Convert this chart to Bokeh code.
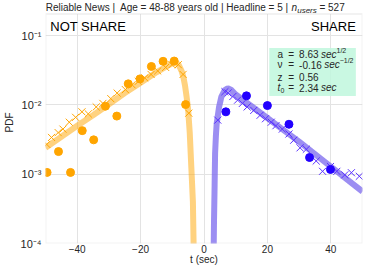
from bokeh.plotting import figure
from bokeh.models import Range1d, FixedTicker, Label, BoxAnnotation
from bokeh.embed import file_html
from bokeh.resources import INLINE

# ---------------- data ----------------
# NOT SHARE (plotted at negative times)
ns_circ_t = [-49.5, -45.9, -42.1, -38.4, -34.8, -31.1, -27.5, -23.9, -20.2, -16.6, -12.9, -9.4, -5.8]
ns_circ_p = [1.06e-3, 2.12e-3, 1.06e-3, 4.25e-3, 3.13e-3, 9.57e-3, 6.89e-3, 2.01e-2, 2.37e-2, 3.58e-2, 4.25e-2, 4.29e-2, 1.01e-2]

ns_x_t = [-49.6, -48.1, -46.0, -44.5, -42.5, -40.5, -38.5, -36.5, -34.0, -31.9, -29.4, -27.4,
          -24.8, -22.7, -20.7, -18.7, -16.7, -14.6, -12.1, -10.1, -8.1, -6.6, -4.8]
ns_x_p = [2.69e-3, 3.39e-3, 3.98e-3, 4.47e-3, 5.62e-3, 6.61e-3, 7.94e-3, 7.41e-3, 9.33e-3, 1.05e-2, 1.23e-2, 1.48e-2,
          1.66e-2, 1.95e-2, 2.19e-2, 2.45e-2, 2.75e-2, 3.09e-2, 3.47e-2, 3.80e-2, 3.80e-2, 2.75e-2, 7.59e-3]

ns_fit_t = [-50, -45, -40, -35, -30, -25, -20, -15, -12, -10, -9, -8, -7, -6.5, -6, -5.5, -5, -4.5, -4.0, -3.5, -3.3, -3.2]
ns_fit_p = [2.40e-3, 3.47e-3, 5.01e-3, 7.08e-3, 1.02e-2, 1.48e-2, 2.09e-2, 2.95e-2, 3.55e-2, 3.98e-2, 4.07e-2,
            3.80e-2, 3.02e-2, 2.51e-2, 1.91e-2, 1.32e-2, 8.51e-3, 3.98e-3, 1.26e-3, 3.98e-4, 1.12e-4, 5.0e-5]

# SHARE (positive times)
sh_circ_t = [6.9, 13.4, 20.0, 26.8, 33.3, 39.9]
sh_circ_p = [7.94e-3, 1.35e-2, 9.77e-3, 5.25e-3, 1.74e-3, 1.17e-3]

sh_x_t = [4.35, 6.6, 7.6, 9.1, 10.6, 12.1, 13.6, 15.7, 17.7, 19.4, 21.2, 22.7, 24.7, 26.8, 28.3,
          30.3, 32.3, 35.4, 37.4, 39.9, 41.9, 44.4, 46.5, 49.0]
sh_x_p = [6.03e-3, 1.55e-2, 1.48e-2, 1.32e-2, 1.17e-2, 1.05e-2, 9.33e-3, 8.32e-3, 7.08e-3, 6.31e-3, 5.62e-3,
          5.01e-3, 4.47e-3, 3.80e-3, 3.09e-3, 2.40e-3, 2.29e-3, 1.55e-3, 1.10e-3, 1.29e-3, 1.10e-3, 9.77e-4,
          1.05e-3, 9.33e-4]

sh_fit_t = [3.0, 3.15, 3.35, 3.5, 3.75, 4.0, 4.75, 5.5, 6.5, 7.5, 8.5, 10, 15, 20, 25, 30, 35, 40, 45, 50]
sh_fit_p = [5.0e-5, 2.0e-4, 6.92e-4, 2.0e-3, 3.55e-3, 5.37e-3, 9.33e-3, 1.32e-2, 1.62e-2, 1.74e-2, 1.66e-2,
            1.41e-2, 9.55e-3, 6.46e-3, 4.37e-3, 2.95e-3, 1.95e-3, 1.29e-3, 8.51e-4, 5.62e-4]

x_ticks = [-40, -20, 0, 20, 40]
x_tick_labels = ["\u221240", "\u221220", "0", "20", "40"]
y_ticks = [1e-4, 1e-3, 1e-2, 1e-1]
y_tick_labels = ["10\u207b\u2074", "10\u207b\u00b3", "10\u207b\u00b2", "10\u207b\u00b9"]

Y_LOW, Y_HIGH = 1e-4, 0.205    # axes limits of the plotting area
Y_TITLE_ROOM = 0.31            # extra room above the axes for the title row

FONT = "Liberation Sans"
ORANGE = "#ffa500"
PURPLE_LINE = "#7b68ee"
PURPLE_X = "#5a32ff"
PURPLE_DOT = "#2200ff"
TXT = "#262626"
EDGE = "#d4d4d4"

p = figure(width=364, height=267, output_backend="svg", toolbar_location=None,
           y_axis_type="log", x_range=Range1d(-50, 50), y_range=Range1d(Y_LOW, Y_TITLE_ROOM),
           title=None, min_border_left=36, min_border_right=2, min_border_top=1,
           min_border_bottom=20)
p.background_fill_color = "white"
p.border_fill_color = "white"
p.outline_line_color = None

p.grid.grid_line_color = "#e3e3e3"
p.grid.grid_line_width = 1
p.xaxis.ticker = FixedTicker(ticks=x_ticks)
p.yaxis.ticker = FixedTicker(ticks=y_ticks)
p.xaxis.major_label_overrides = dict(zip(x_ticks, x_tick_labels))
p.yaxis.major_label_overrides = dict(zip(y_ticks, y_tick_labels))
p.ygrid.ticker = FixedTicker(ticks=y_ticks)
p.xgrid.ticker = FixedTicker(ticks=x_ticks)

for ax in (p.xaxis, p.yaxis):
    ax.axis_line_color = None
    ax.major_tick_line_color = None
    ax.minor_tick_line_color = None
    ax.major_tick_out = 0
    ax.major_tick_in = 0
    ax.minor_tick_out = 0
    ax.minor_tick_in = 0
    ax.major_label_text_font = FONT
    ax.major_label_text_font_size = "10px"
    ax.major_label_text_color = TXT
    ax.axis_label_text_font = FONT
    ax.axis_label_text_font_size = "10px"
    ax.axis_label_text_font_style = "normal"
    ax.axis_label_text_color = TXT
p.xaxis.major_label_standoff = 1
p.xaxis.axis_label_standoff = -2
p.yaxis.major_label_standoff = 4
p.yaxis.axis_label_standoff = 3
p.yaxis.major_label_text_font_size = "11px"
p.xaxis.axis_label = "t (sec)"
p.yaxis.axis_label = "PDF"

# fits
p.line(ns_fit_t, ns_fit_p, line_color=ORANGE, line_alpha=0.5, line_width=6)
p.line(sh_fit_t, sh_fit_p, line_color=PURPLE_LINE, line_alpha=0.75, line_width=6)
# simulated (x)
p.scatter(ns_x_t, ns_x_p, marker="x", size=10, line_color=ORANGE, line_width=1)
p.scatter(sh_x_t, sh_x_p, marker="x", size=10, line_color=PURPLE_X, line_width=1)
# data (circles)
p.scatter(ns_circ_t, ns_circ_p, marker="circle", size=8, fill_color=ORANGE, line_color=ORANGE)
p.scatter(sh_circ_t, sh_circ_p, marker="circle", size=8, fill_color=PURPLE_DOT, line_color=PURPLE_DOT)

# title row above the axes: blank out the grid there, draw the axes frame
p.add_layout(BoxAnnotation(bottom=Y_HIGH, fill_color="white", fill_alpha=1, line_color=None))
p.add_layout(BoxAnnotation(left=-50, right=50, bottom=Y_LOW, top=Y_HIGH, fill_alpha=0,
                           line_color=EDGE, line_width=2))

# side labels
p.add_layout(Label(x=-48.5, y=0.137, text="NOT SHARE", text_font=FONT, text_font_size="13px",
                   text_baseline="middle", text_align="left", text_color="black"))
p.add_layout(Label(x=47.9, y=0.137, text="SHARE", text_font=FONT, text_font_size="13px",
                   text_baseline="middle", text_align="right", text_color="black"))

# parameter box
p.add_layout(BoxAnnotation(left=20.6, right=47.9, top=0.066, bottom=0.0134,
                           fill_color="#bff7dd", fill_alpha=0.85, line_color=None))

def lab(x, y, text, size="10px", style="normal", dy=0, align="left"):
    p.add_layout(Label(x=x, y=y, text=text, text_font=FONT, text_font_size=size,
                       text_font_style=style, text_baseline="middle", text_align=align,
                       text_color=TXT, y_offset=dy))

rows = [0.0537, 0.038, 0.0251, 0.0178]
lab(23.2, rows[0], "a")
lab(26.6, rows[0], "=")
lab(30.0, rows[0], "8.63")
lab(36.9, rows[0], "sec", style="italic")
lab(41.8, rows[0], "1/2", size="7px", dy=4)

lab(23.2, rows[1], "\u03bd")
lab(26.6, rows[1], "=")
lab(30.0, rows[1], "-0.16")
lab(37.9, rows[1], "sec", style="italic")
lab(42.8, rows[1], "\u22121/2", size="7px", dy=4)

lab(23.2, rows[2], "z")
lab(26.6, rows[2], "=")
lab(30.0, rows[2], "0.56")

lab(23.2, rows[3], "t", style="italic")
lab(24.1, rows[3], "0", size="7px", dy=-3)
lab(26.6, rows[3], "=")
lab(30.0, rows[3], "2.34")
lab(36.9, rows[3], "sec", style="italic")

# title (composed of pieces for the italic n with subscript)
ty = 0.25
lab(26.7, ty, "Reliable News |\u00a0 Age = 48-88 years old | Headline = 5 |", align="right")
lab(27.6, ty, "n", style="italic")
lab(29.4, ty, "users", size="8px", style="italic", dy=-3)
lab(36.4, ty, "= 527")

open("out.html", "w").write(file_html(p, INLINE))
